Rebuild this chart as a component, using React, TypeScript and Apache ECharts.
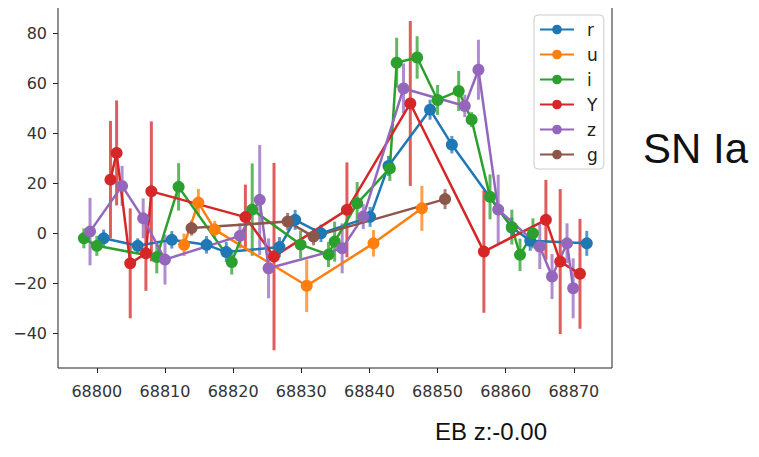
import React, { useEffect, useRef } from "react";
import * as echarts from "echarts";

// ---- data (MJD, flux, error) ----
const R_X = [68801.0, 68806.0, 68811.0, 68816.1, 68819.0, 68826.8, 68829.1, 68832.9, 68840.1, 68842.8, 68848.9, 68852.1, 68860.9, 68863.6, 68871.9];
const R_Y = [-2, -5, -2.6, -4.6, -7.5, -5.5, 5.4, 0, 6.6, 27, 49.5, 35.5, 2.3, -3, -4];
const R_E = [3.5, 3, 3.5, 3.5, 4, 4, 4, 3.5, 4, 4, 4, 3.5, 4, 4, 5];

const U_X = [68812.8, 68814.9, 68817.3, 68830.8, 68840.6, 68847.7];
const U_Y = [-4.6, 12.3, 1.5, -21, -4, 10];
const U_E = [4.5, 5.5, 3.5, 10.5, 5.3, 9];

const I_X = [68798.1, 68800.0, 68808.8, 68812.0, 68819.8, 68822.8, 68829.9, 68834.0, 68834.9, 68838.2, 68843.0, 68844.0, 68847.0, 68850.0, 68853.1, 68855.0, 68857.7, 68860.9, 68862.1, 68864.0];
const I_Y = [-2, -5, -9.5, 18.6, -11.5, 9.5, -4.5, -8.5, -3.3, 12, 26, 68.3, 70.4, 53.4, 57, 45.5, 14.6, 2.5, -8.6, 0];
const I_E = [4, 4, 6.5, 9.5, 5, 18.5, 5.5, 5, 8, 8.5, 5, 10, 8.5, 6, 8, 3, 9, 7, 6.5, 6];

const Y_X = [68802.0, 68802.9, 68804.9, 68807.2, 68808.0, 68821.8, 68826.0, 68836.7, 68846.0, 68856.8, 68865.9, 68868.0, 68870.9];
const Y_Y = [21.5, 32.2, -12, -8, 16.8, 6.5, -9.3, 9.4, 52, -7.3, 5.4, -11.3, -16.2];
const Y_E = [23.5, 21, 22, 15, 28, 13, 37.5, 19, 33, 24.5, 16, 29, 22];

const Z_X = [68799.0, 68803.7, 68806.8, 68810.0, 68821.0, 68823.9, 68825.2, 68836.0, 68839.1, 68845.0, 68854.0, 68856.0, 68858.9, 68865.0, 68866.8, 68869.0, 68869.9];
const Z_Y = [0.7, 19, 6, -10.5, -1, 13.4, -14, -6, 6.7, 58, 51, 65.5, 9.5, -5.3, -17.3, -4, -22];
const Z_E = [13.5, 8, 8, 10, 5, 22, 12, 10, 5, 10, 4.5, 12, 14, 9, 9, 8, 12];

const G_X = [68813.9, 68828.0, 68831.8, 68851.1];
const G_Y = [2.1, 4.7, -1.3, 13.7];
const G_E = [3, 3.5, 3.5, 4];

const BANDS = ["r", "u", "i", "Y", "z", "g"];
const COLORS = ["#1f77b4", "#ff7f0e", "#2ca02c", "#d62728", "#9467bd", "#8c564b"];
const XS = [R_X, U_X, I_X, Y_X, Z_X, G_X];
const YS = [R_Y, U_Y, I_Y, Y_Y, Z_Y, G_Y];
const ES = [R_E, U_E, I_E, Y_E, Z_E, G_E];

const X_TICKS = [68800, 68810, 68820, 68830, 68840, 68850, 68860, 68870];
const Y_TICKS = [-40, -20, 0, 20, 40, 60, 80];

const FONT = "DejaVu Sans";

export default function App() {
  const ref = useRef<HTMLDivElement>(null);
  useEffect(() => {
    if (!ref.current) return;
    const chart = echarts.init(ref.current, null, { renderer: "svg" });
    const series: any[] = [];
    BANDS.forEach((b, k) => {
      const color = COLORS[k];
      series.push({
        type: "custom",
        name: b + "_err",
        data: XS[k].map((x, i) => [x, YS[k][i] - ES[k][i], YS[k][i] + ES[k][i]]),
        encode: { x: 0, y: [1, 2] },
        renderItem: (params: any, api: any) => {
          const x = api.value(0);
          const p1 = api.coord([x, api.value(1)]);
          const p2 = api.coord([x, api.value(2)]);
          return {
            type: "line",
            shape: { x1: p1[0], y1: p1[1], x2: p2[0], y2: p2[1] },
            style: { stroke: color, lineWidth: 3, opacity: 0.75 },
          };
        },
        silent: true,
      });
      series.push({
        type: "line",
        name: b,
        data: XS[k].map((x, i) => [x, YS[k][i]]),
        symbol: "circle",
        symbolSize: 12,
        showSymbol: true,
        itemStyle: { color },
        lineStyle: { color, width: 2.5 },
      });
    });
    chart.setOption({
      animation: false,
      backgroundColor: "#fff",
      grid: {
        left: 58,
        top: 6,
        width: 554,
        height: 362,
        show: true,
        borderColor: "#222",
        borderWidth: 1,
        backgroundColor: "#fff",
      },
      legend: {
        data: BANDS,
        orient: "vertical",
        left: 534,
        top: 15,
        backgroundColor: "#fff",
        borderColor: "#ccc",
        borderWidth: 1,
        borderRadius: 4,
        padding: [6, 6, 6, 5],
        itemWidth: 34,
        itemHeight: 12,
        itemGap: 8,
        textStyle: { fontFamily: FONT, fontSize: 17, color: "#222", lineHeight: 16, padding: [0, 0, 0, 8] },
      },
      xAxis: {
        type: "value",
        min: 68794.3,
        max: 68875.6,
        splitLine: { show: false },
        axisLine: { show: false, onZero: false },
        axisTick: { show: true, length: 5, lineStyle: { color: "#222" }, customValues: X_TICKS },
        axisLabel: {
          customValues: X_TICKS,
          fontFamily: FONT,
          fontSize: 16,
          color: "#333",
          margin: 15,
          formatter: (v: number) => String(v),
        },
      },
      yAxis: {
        type: "value",
        min: -53.9,
        max: 91,
        splitLine: { show: false },
        axisLine: { show: false, onZero: false },
        axisTick: { show: true, length: 5, lineStyle: { color: "#222" }, customValues: Y_TICKS },
        axisLabel: {
          customValues: Y_TICKS,
          fontFamily: FONT,
          fontSize: 16,
          color: "#333",
          margin: 11,
          formatter: (v: number) => (v < 0 ? "\u2212" + Math.abs(v) : String(v)),
        },
      },
      graphic: [
        {
          type: "text",
          left: 643,
          top: 127,
          style: { text: "SN Ia", fontFamily: "Liberation Sans", fontSize: 42, fill: "#111" },
        },
        {
          type: "text",
          left: 435,
          top: 419,
          style: { text: "EB z:-0.00", fontFamily: "Liberation Sans", fontSize: 24, fill: "#111" },
        },
      ],
      series,
    });
    return () => chart.dispose();
  }, []);
  return <div ref={ref} style={{ width: 759, height: 457, margin: -8 }} />;
}
